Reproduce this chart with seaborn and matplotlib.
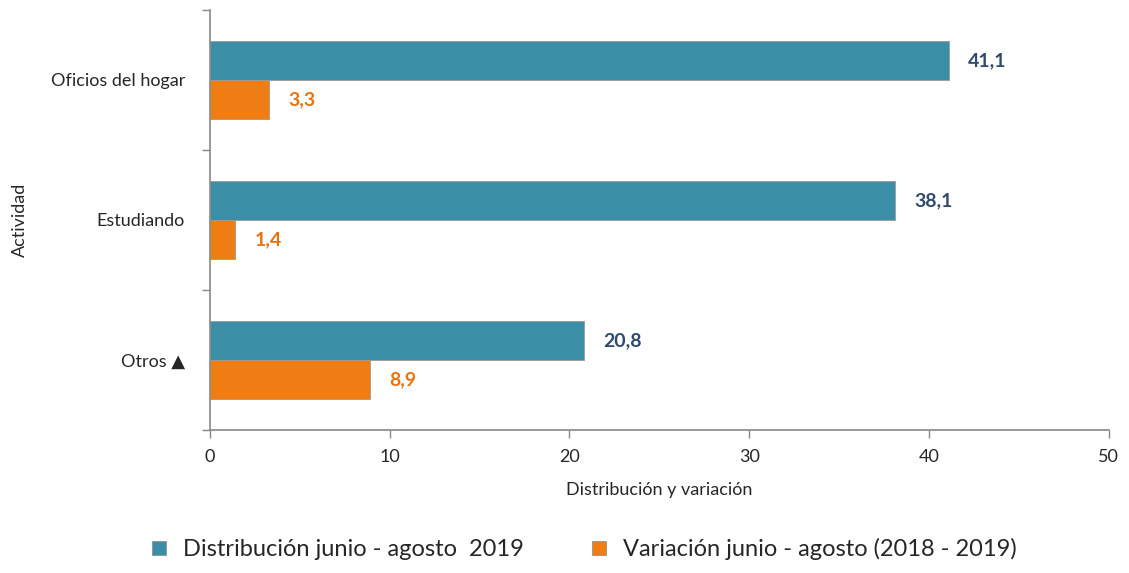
import matplotlib.pyplot as plt
import seaborn as sns
import pandas as pd
from matplotlib.lines import Line2D

actividades = ["Oficios del hogar", "Estudiando", "Otros ▲"]
distribucion = [41.1, 38.1, 20.8]
variacion = [3.3, 1.4, 8.9]
series = ["Distribución junio - agosto  2019", "Variación junio - agosto (2018 - 2019)"]
colores = ["#3A8EA5", "#F07D14"]
colores_texto = ["#2F4A6E", "#E8730E"]

df = pd.DataFrame({
    "Actividad": actividades * 2,
    "valor": distribucion + variacion,
    "serie": [series[0]] * 3 + [series[1]] * 3,
})

sns.set_style("white")
plt.rcParams["font.family"] = ["Lato", "DejaVu Sans"]

fig = plt.figure(figsize=(11.29, 5.73), dpi=100)
ax = fig.add_axes([0.186, 0.2496, 0.796, 0.733])

sns.barplot(data=df, y="Actividad", x="valor", hue="serie", orient="h",
            palette=colores, width=0.56, saturation=1, ax=ax,
            edgecolor="#9a9a9a", linewidth=0.6, legend=False)

for cont, c in zip(ax.containers, colores_texto):
    ax.bar_label(cont, labels=[f"{v:.1f}".replace(".", ",") for v in cont.datavalues],
                 padding=14, color=c, fontsize=14, fontweight="bold")

ax.set_xlim(0, 50)
ax.set_xticks(range(0, 51, 10))
ax.set_ylim(2.5, -0.5)
ax.set_yticks([-0.5, 0.5, 1.5, 2.5], minor=True)
ax.tick_params(axis="y", which="major", length=0, labelsize=13, pad=18)
ax.tick_params(axis="y", which="minor", length=6, color="#888888", width=1, direction="out")
ax.tick_params(axis="x", length=6, color="#888888", width=1, direction="out", labelsize=13, pad=8)
ax.yaxis.set_ticks_position("left")
ax.xaxis.set_ticks_position("bottom")

for s in ["top", "right"]:
    ax.spines[s].set_visible(False)
for s in ["left", "bottom"]:
    ax.spines[s].set_color("#888888")
    ax.spines[s].set_linewidth(1.2)

ax.set_xlabel("Distribución y variación", fontsize=13, labelpad=12)
ax.set_ylabel("Actividad", fontsize=13)
ax.yaxis.set_label_coords(-0.203, 0.5)

handles = [Line2D([], [], marker="s", linestyle="", markersize=10, markerfacecolor=c,
                  markeredgecolor="#888888", markeredgewidth=0.5) for c in colores]
fig.legend(handles, series, loc="lower center", bbox_to_anchor=(0.51, -0.015), ncol=2,
           frameon=False, fontsize=17, handletextpad=0.0, columnspacing=2.2)

plt.savefig("out.png", dpi=100)
plt.close()
